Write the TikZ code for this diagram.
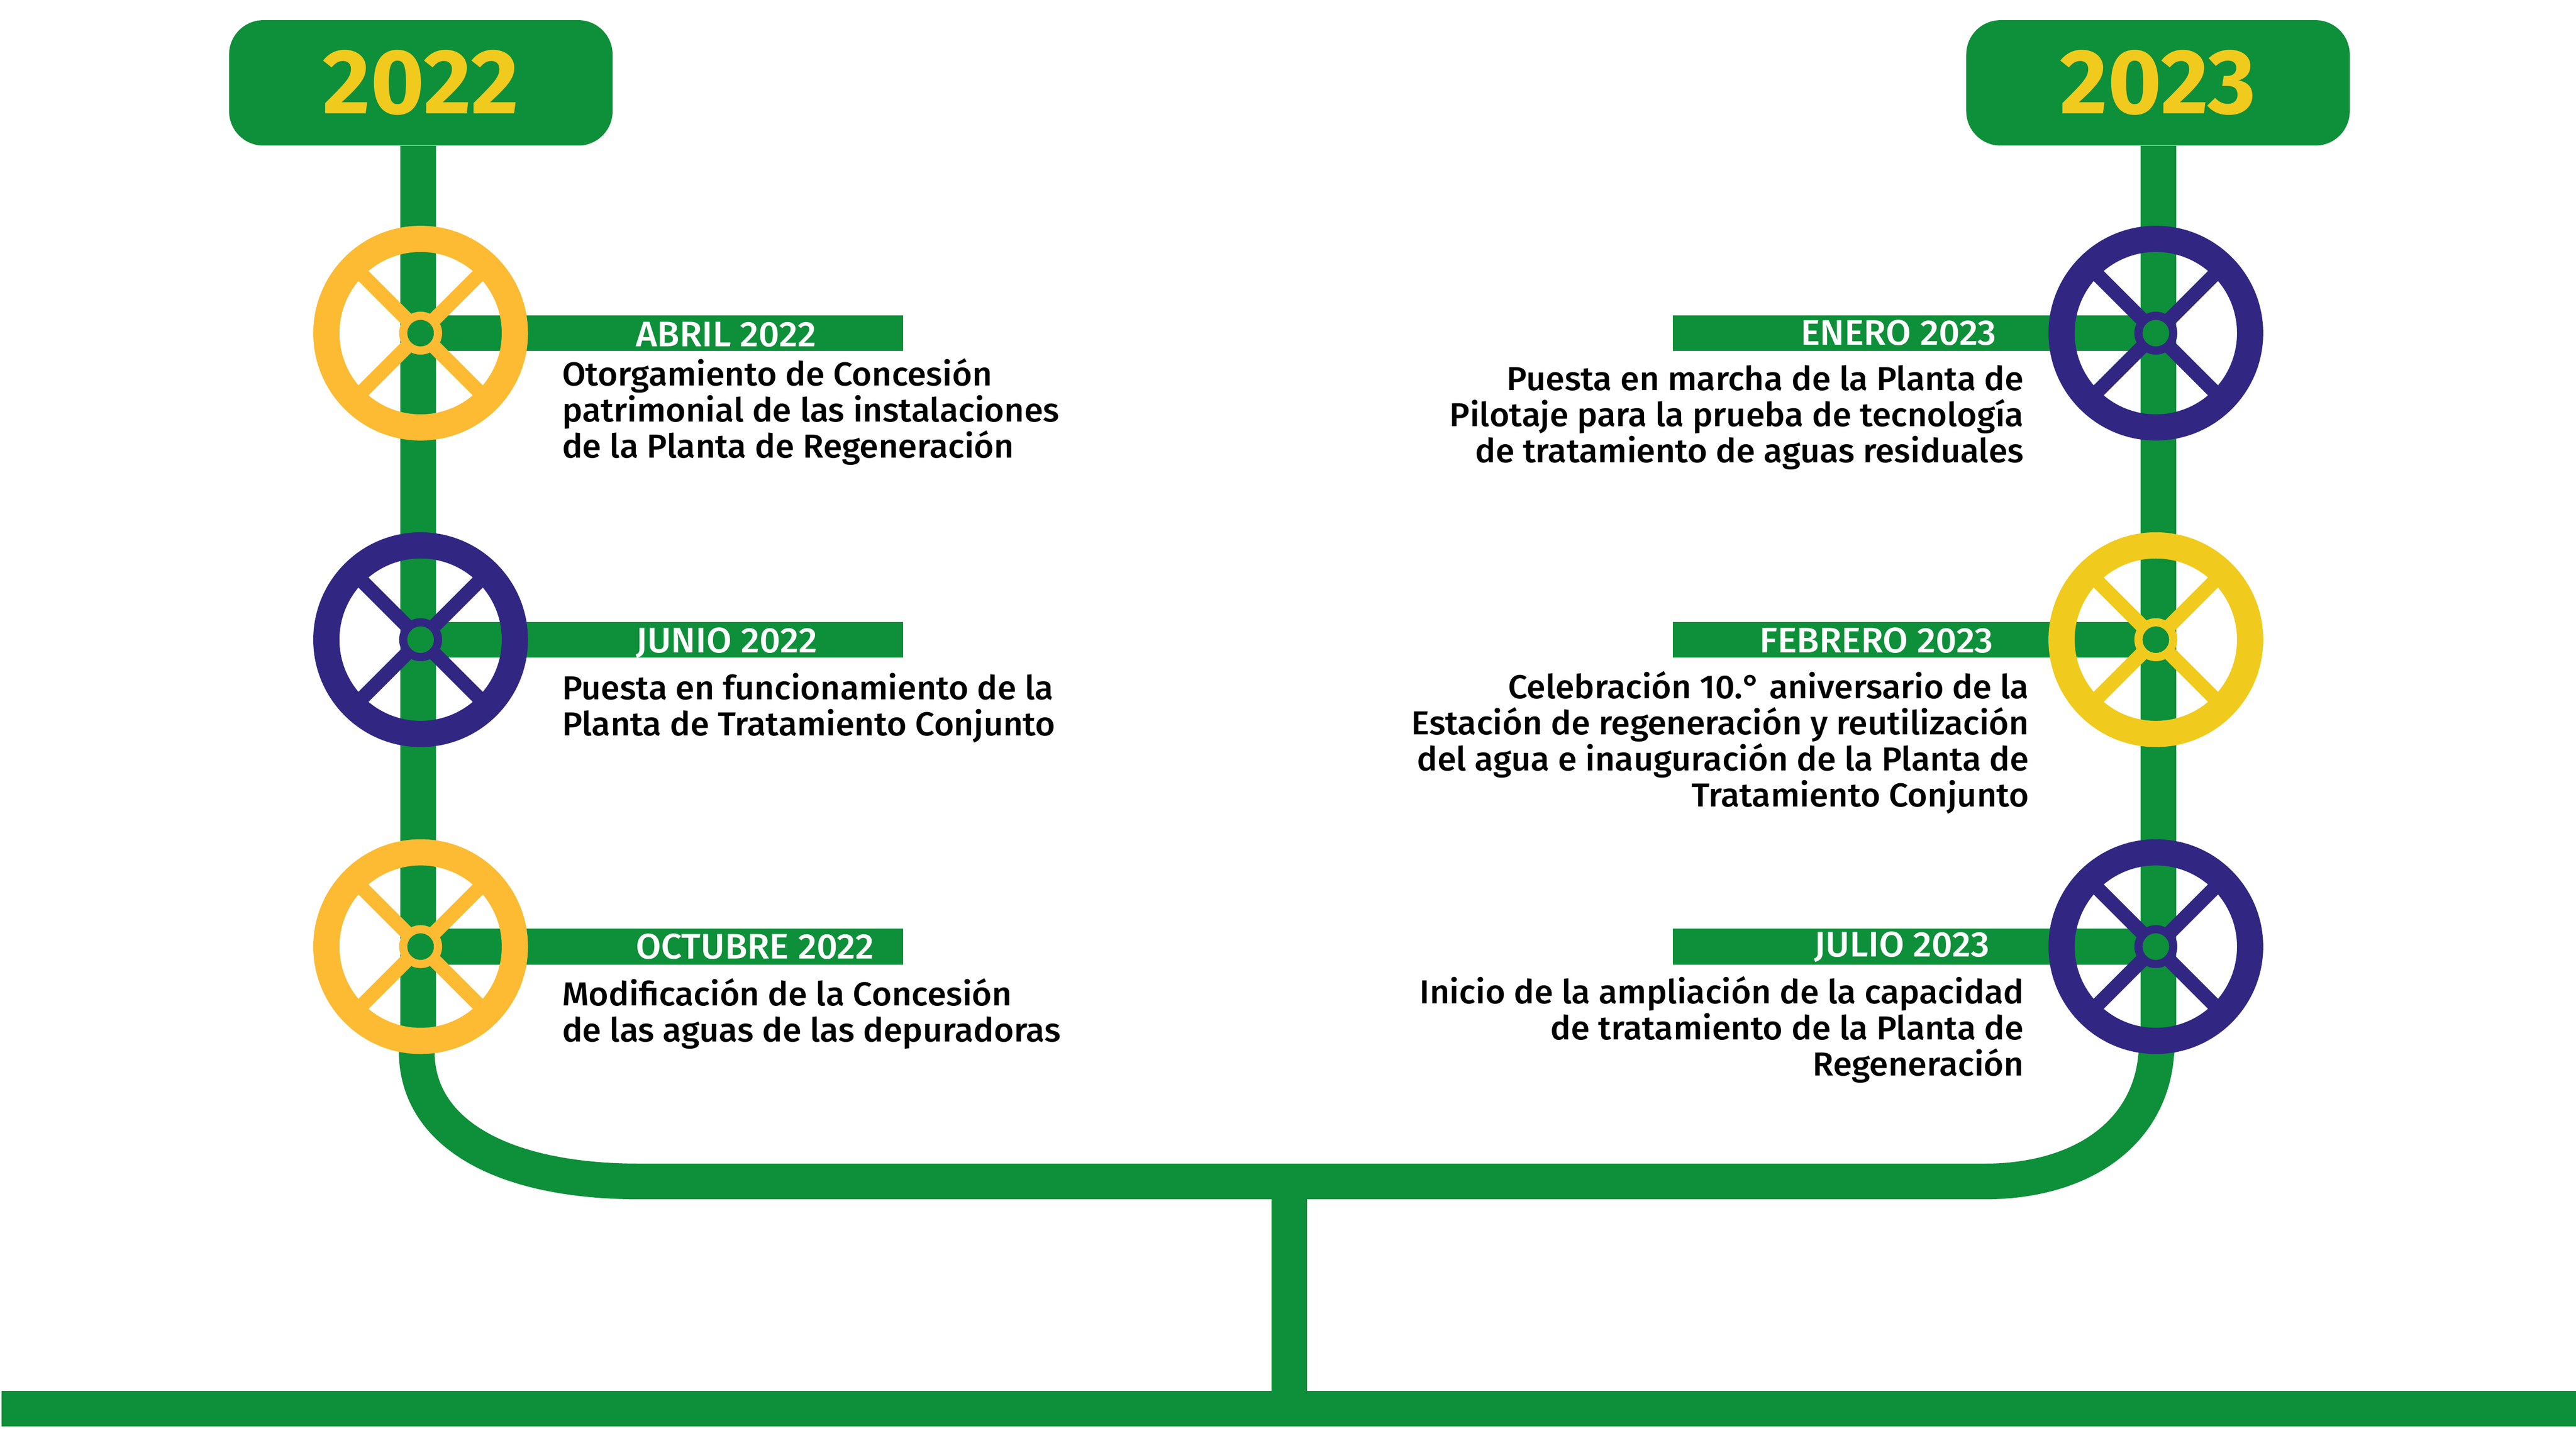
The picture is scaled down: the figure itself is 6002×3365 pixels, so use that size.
\documentclass[tikz,border=0pt]{standalone}
\usepackage{fontspec}
\setmainfont{Fira Sans}[BoldFont={Fira Sans Medium},FakeStretch=1.03]
\newfontfamily\yearfont{Fira Sans}[FakeStretch=1.0]
\usepackage{tikz}
\definecolor{linegreen}{HTML}{0E8F39}
\definecolor{wheelorange}{HTML}{FCBB33}
\definecolor{wheelblue}{HTML}{312783}
\definecolor{wheelyellow}{HTML}{F0CB1D}
\tikzstyle{yearbox} = [rectangle, rounded corners=0.8cm, minimum width=8.93cm, minimum height=2.92cm, text centered, fill=linegreen, text=wheelyellow, font=\fontsize{61}{61}\selectfont\yearfont\bfseries]
\tikzstyle{mainline} = [draw=linegreen, line width=0.83cm]
\tikzstyle{ring} = [circle, draw, line width=0.61cm, minimum size=4.39cm, inner sep=0pt]
\tikzstyle{hub} = [circle, draw, fill=linegreen, line width=0.19cm, minimum size=0.81cm, inner sep=0pt]
\tikzstyle{spoke} = [line width=0.33cm]
\tikzstyle{datelabel} = [inner sep=0pt, text=white, font=\fontsize{23.5}{23.5}\selectfont\bfseries]
\tikzstyle{lefttext} = [anchor=base west, align=left, inner sep=0pt, font=\fontsize{22}{23.9}\selectfont\bfseries]
\tikzstyle{righttext} = [anchor=base east, align=right, inner sep=0pt, font=\fontsize{22}{23.9}\selectfont\bfseries]

\begin{document}
\begin{tikzpicture}[x=0.01cm, y=-0.01cm]
\useasboundingbox (0,0) rectangle (6002,3365);
\node (box22) [yearbox] at (980.5,193) {2022};
\node (box23) [yearbox] at (5028,193) {2023};
\coordinate (stemA) at (974.5,2420);
\coordinate (stemB) at (5029,2420);
\coordinate (curveA) at (971,2455);
\coordinate (curveB) at (5024,2455);
\coordinate (flatA) at (1490,2752);
\coordinate (flatB) at (4624,2752);
\coordinate (joint) at (3004,2752);
\coordinate (baseL) at (4,3281.5);
\coordinate (baseR) at (6002,3281.5);
% wheel centres
\coordinate (abril) at (980,776);
\coordinate (junio) at (980,1490);
\coordinate (octubre) at (980,2205);
\coordinate (enero) at (5023,776);
\coordinate (febrero) at (5023,1490);
\coordinate (julio) at (5023,2205);
% ends of the date bars
\coordinate (abrilend) at (2104,776);
\coordinate (junioend) at (2104,1490);
\coordinate (octubreend) at (2104,2205);
\coordinate (eneroend) at (3898,776);
\coordinate (febreroend) at (3898,1490);
\coordinate (julioend) at (3898,2205);

\draw [mainline] (box22.south -| stemA) -- (stemA) -- (curveA)
 .. controls (975,2640) and (1170,2752) .. (flatA) -- (flatB)
 .. controls (4850,2752) and (5010,2640) .. (curveB) -- (stemB) -- (box23.south -| stemB);
\draw [mainline] (joint) -- (joint |- baseL);
\draw [mainline] (baseL) -- (baseR);
\foreach \name in {abril,junio,octubre,enero,febrero,julio}
 \draw [mainline] (\name) -- (\name end);

\foreach \name/\colr in {abril/wheelorange,junio/wheelblue,octubre/wheelorange,enero/wheelblue,febrero/wheelyellow,julio/wheelblue} {
 \draw [spoke, draw=\colr] (\name) ++(-155,-155) -- ++(310,310);
 \draw [spoke, draw=\colr] (\name) ++(155,-155) -- ++(-310,310);
 \node (\name ring) [ring, draw=\colr] at (\name) {};
 \node (\name hub) [hub, draw=\colr] at (\name) {};
}

\node (abrildate) [datelabel, anchor=base west] at (1481,807) {ABRIL 2022};
\node (juniodate) [datelabel, anchor=base west] at (1481,1520) {JUNIO 2022};
\node (octubredate) [datelabel, anchor=base west] at (1481,2233) {OCTUBRE 2022};
\node (enerodate) [datelabel, anchor=base east] at (4652,804) {ENERO 2023};
\node (febrerodate) [datelabel, anchor=base east] at (4645,1520) {FEBRERO 2023};
\node (juliodate) [datelabel, anchor=base east] at (4636,2229) {JULIO 2023};

\node (abriltext) [lefttext] at (1309,1066) {Otorgamiento de Concesión\\patrimonial de las instalaciones\\de la Planta de Regeneración};
\node (juniotext) [lefttext] at (1309,1713) {Puesta en funcionamiento de la\\Planta de Tratamiento Conjunto};
\node (octubretext) [lefttext] at (1309,2426) {Modificación de la Concesión\\de las aguas de las depuradoras};
\node (enerotext) [righttext] at (4716,1077) {Puesta en marcha de la Planta de\\Pilotaje para la prueba de tecnología\\de tratamiento de aguas residuales};
\node (febrerotext) [righttext] at (4728,1879) {Celebración 10.° aniversario de la\\Estación de regeneración y reutilización\\del agua e inauguración de la Planta de\\Tratamiento Conjunto};
\node (juliotext) [righttext] at (4716,2506) {Inicio de la ampliación de la capacidad\\de tratamiento de la Planta de\\Regeneración};
\end{tikzpicture}
\end{document}
